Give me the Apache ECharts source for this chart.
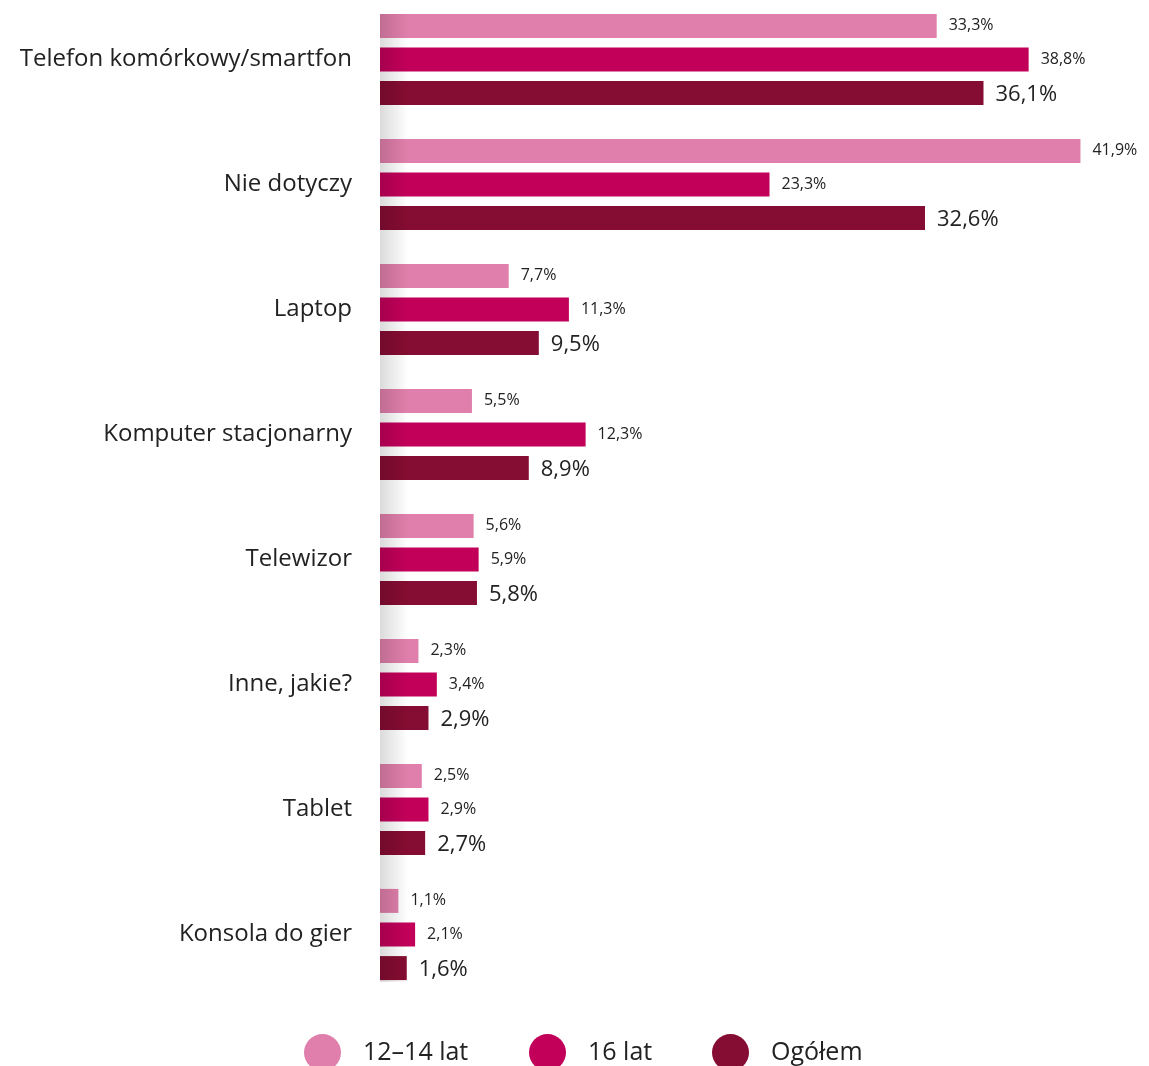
<!DOCTYPE html>
<html>
<head>
<meta charset="utf-8">
<script src="https://cdn.jsdelivr.net/npm/echarts@6/dist/echarts.min.js"></script>
<style>
  html, body { margin: 0; padding: 0; background: #fff; }
  #chart { width: 1149px; height: 1066px; }
</style>
</head>
<body>
<div id="chart"></div>
<script>
const categories = [
  'Telefon komórkowy/smartfon',
  'Nie dotyczy',
  'Laptop',
  'Komputer stacjonarny',
  'Telewizor',
  'Inne, jakie?',
  'Tablet',
  'Konsola do gier'
];
const seriesNames = ['12–14 lat', '16 lat', 'Ogółem'];
const young = [33.3, 41.9, 7.7, 5.5, 5.6, 2.3, 2.5, 1.1];
const older = [38.8, 23.3, 11.3, 12.3, 5.9, 3.4, 2.9, 2.1];
const total = [36.1, 32.6, 9.5, 8.9, 5.8, 2.9, 2.7, 1.6];
const colors = ['#e07fab', '#c2005a', '#850c32'];
const legendLeft = [304, 529, 712];

const font = '"Open Sans", sans-serif';
const chart = echarts.init(document.getElementById('chart'));

function fmt(v) {
  return v.toFixed(1).replace('.', ',') + '%';
}

function makeSeries(name, data, color, labelSize, dy) {
  return {
    name: name,
    type: 'bar',
    data: data,
    barWidth: 24,
    barGap: '40%',
    itemStyle: { color: color },
    label: {
      show: true,
      position: 'right',
      distance: 12,
      offset: [0, dy],
      fontFamily: font,
      fontSize: labelSize,
      color: '#222',
      formatter: p => fmt(p.value)
    },
    z: 2
  };
}

// one legend per item so each can sit where the reference puts it
const legends = seriesNames.map((name, i) => ({
  top: 1034,
  left: legendLeft[i],
  padding: 0,
  itemWidth: 37,
  itemHeight: 37,
  icon: 'circle',
  textStyle: { fontFamily: font, fontSize: 25, color: '#222', padding: [2, 0, 0, 17] },
  data: [name]
}));

chart.setOption({
  animation: false,
  textStyle: { fontFamily: font },
  grid: { left: 380, right: 0, top: -3, height: 1000, outerBoundsMode: 'none' },
  xAxis: {
    type: 'value',
    min: 0,
    max: 46,
    show: false
  },
  yAxis: {
    type: 'category',
    data: categories,
    inverse: true,
    axisLine: { show: false },
    axisTick: { show: false },
    axisLabel: {
      margin: 28,
      fontFamily: font,
      fontSize: 24,
      color: '#222',
      padding: [3, 0, 0, 0]
    }
  },
  legend: legends,
  graphic: [{
    type: 'rect',
    left: 380,
    top: 14,
    shape: { width: 28, height: 968 },
    style: {
      fill: new echarts.graphic.LinearGradient(0, 0, 1, 0, [
        { offset: 0, color: 'rgba(0,0,0,0.14)' },
        { offset: 1, color: 'rgba(0,0,0,0)' }
      ])
    },
    z: 100,
    silent: true
  }],
  series: [
    makeSeries(seriesNames[0], young, colors[0], 16, 0),
    makeSeries(seriesNames[1], older, colors[1], 16, 0),
    makeSeries(seriesNames[2], total, colors[2], 22, 2)
  ]
});
</script>
</body>
</html>
